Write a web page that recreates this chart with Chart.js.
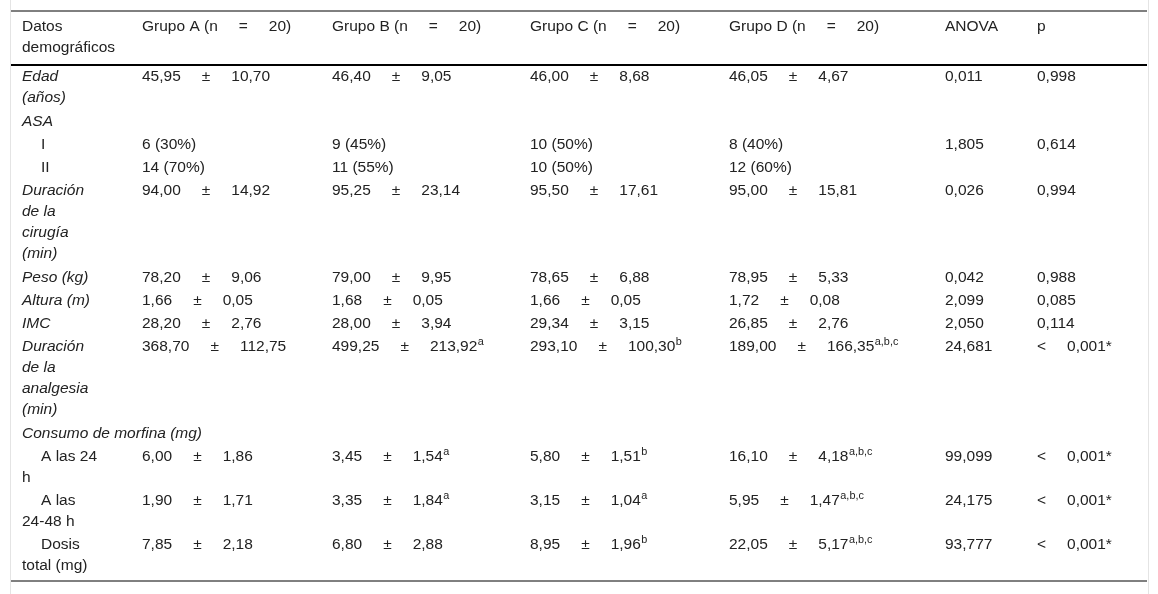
<!DOCTYPE html>
<html lang="es">
<head>
<meta charset="utf-8">
<title>Datos demográficos</title>
<script src="https://cdn.jsdelivr.net/npm/chart.js@4"></script>
<style>
  html, body { margin: 0; padding: 0; background: #fff; }
  #wrap { width: 1158px; height: 594px; }
</style>
</head>
<body>
<div id="wrap"><canvas id="tabla"></canvas></div>
<script>
// contenido de la tabla
const encabezados = [
  ["Datos", "demográficos"],
  ["Grupo A (n = 20)"],
  ["Grupo B (n = 20)"],
  ["Grupo C (n = 20)"],
  ["Grupo D (n = 20)"],
  ["ANOVA"],
  ["p"]
];

const filas = [
  ["Edad", "(años)"],
  ["ASA"],
  ["I"],
  ["II"],
  ["Duración", "de la", "cirugía", "(min)"],
  ["Peso (kg)"],
  ["Altura (m)"],
  ["IMC"],
  ["Duración", "de la", "analgesia", "(min)"],
  ["Consumo de morfina (mg)"],
  ["A las 24", "h"],
  ["A las", "24-48 h"],
  ["Dosis", "total (mg)"]
];
const filaCursiva = [true, true, false, false, true, true, true, true, true, true, false, false, false];
const filaSangria = [false, false, true, true, false, false, false, false, false, false, true, true, true];

const grupoA = ["45,95 ± 10,70", "", "6 (30%)", "14 (70%)", "94,00 ± 14,92", "78,20 ± 9,06", "1,66 ± 0,05",
  "28,20 ± 2,76", "368,70 ± 112,75", "", "6,00 ± 1,86", "1,90 ± 1,71", "7,85 ± 2,18"];
const grupoB = ["46,40 ± 9,05", "", "9 (45%)", "11 (55%)", "95,25 ± 23,14", "79,00 ± 9,95", "1,68 ± 0,05",
  "28,00 ± 3,94", "499,25 ± 213,92^a", "", "3,45 ± 1,54^a", "3,35 ± 1,84^a", "6,80 ± 2,88"];
const grupoC = ["46,00 ± 8,68", "", "10 (50%)", "10 (50%)", "95,50 ± 17,61", "78,65 ± 6,88", "1,66 ± 0,05",
  "29,34 ± 3,15", "293,10 ± 100,30^b", "", "5,80 ± 1,51^b", "3,15 ± 1,04^a", "8,95 ± 1,96^b"];
const grupoD = ["46,05 ± 4,67", "", "8 (40%)", "12 (60%)", "95,00 ± 15,81", "78,95 ± 5,33", "1,72 ± 0,08",
  "26,85 ± 2,76", "189,00 ± 166,35^a,b,c", "", "16,10 ± 4,18^a,b,c", "5,95 ± 1,47^a,b,c", "22,05 ± 5,17^a,b,c"];
const anova = ["0,011", "", "1,805", "", "0,026", "0,042", "2,099", "2,050", "24,681", "", "99,099", "24,175", "93,777"];
const pValor = ["0,998", "", "0,614", "", "0,994", "0,988", "0,085", "0,114", "< 0,001*", "", "< 0,001*", "< 0,001*", "< 0,001*"];

const columnas = [null, grupoA, grupoB, grupoC, grupoD, anova, pValor];

// maquetación (en unidades de las escalas)
const colX = [22, 142, 332, 530, 729, 945, 1037];
const lineaAlto = 21;
const separacion = 2.25;
const yCabecera = 27;
const yCuerpo = 77;
const reglaArriba = 11, reglaCabecera = 65, reglaAbajo = 581;
const bordeIzq = 11, bordeDer = 1147;
const hueco = 21;
const sangria = 19;

const FUENTE = "'Liberation Sans', Arial, sans-serif";
const TAM = 15.5;
const COLOR = "#222";

// dibuja una celda: los signos ±, =, < llevan huecos anchos; superíndice tras "^"
function dibujaCelda(ctx, texto, x, y, cursiva) {
  const estilo = (cursiva ? "italic " : "") + TAM + "px " + FUENTE;
  let base = texto, sup = "";
  if (texto.indexOf("^") >= 0) {
    base = texto.split("^")[0];
    sup = texto.split("^")[1];
  }
  ctx.font = estilo;
  const signos = ["±", "=", "<"];
  const partes = base.split(" ");
  let cx = x;
  partes.forEach((p, i) => {
    ctx.fillText(p, cx, y);
    cx += ctx.measureText(p).width;
    if (i < partes.length - 1) {
      const ancho = signos.includes(p) || signos.includes(partes[i + 1]);
      cx += ancho ? hueco : ctx.measureText(" ").width;
    }
  });
  if (sup) {
    ctx.font = (TAM * 0.7) + "px " + FUENTE;
    ctx.fillText(sup, cx + 0.5, y - 5);
  }
}

const tablaPlugin = {
  id: "tabla",
  afterDraw(chart) {
    const ctx = chart.ctx;
    const sx = chart.scales.x, sy = chart.scales.y;
    ctx.save();

    // bordes laterales tenues
    ctx.strokeStyle = "#e4e4e4";
    ctx.lineWidth = 1;
    [bordeIzq - 0.5, bordeDer + 1.5].forEach(v => {
      ctx.beginPath();
      ctx.moveTo(sx.getPixelForValue(v), sy.getPixelForValue(0));
      ctx.lineTo(sx.getPixelForValue(v), sy.getPixelForValue(594));
      ctx.stroke();
    });

    // reglas horizontales
    ctx.strokeStyle = "#000";
    [[reglaArriba, 1], [reglaCabecera, 2], [reglaAbajo, 1]].forEach(([v, w]) => {
      ctx.lineWidth = w;
      ctx.beginPath();
      ctx.moveTo(sx.getPixelForValue(bordeIzq), sy.getPixelForValue(v));
      ctx.lineTo(sx.getPixelForValue(bordeDer), sy.getPixelForValue(v));
      ctx.stroke();
    });

    ctx.fillStyle = COLOR;
    ctx.textBaseline = "middle";
    ctx.textAlign = "left";

    // cabecera
    encabezados.forEach((lineas, c) => {
      lineas.forEach((t, k) => {
        dibujaCelda(ctx, t, sx.getPixelForValue(colX[c]), sy.getPixelForValue(yCabecera + k * lineaAlto), false);
      });
    });

    // cuerpo
    let yFila = yCuerpo;
    filas.forEach((lineas, r) => {
      lineas.forEach((t, k) => {
        const x0 = colX[0] + (filaSangria[r] && k === 0 ? sangria : 0);
        dibujaCelda(ctx, t, sx.getPixelForValue(x0), sy.getPixelForValue(yFila + k * lineaAlto), filaCursiva[r]);
      });
      for (let c = 1; c < columnas.length; c++) {
        const v = columnas[c][r];
        if (v) dibujaCelda(ctx, v, sx.getPixelForValue(colX[c]), sy.getPixelForValue(yFila), false);
      }
      yFila += lineas.length * lineaAlto + separacion;
    });

    ctx.restore();
  }
};

new Chart(document.getElementById("tabla").getContext("2d"), {
  type: "scatter",
  data: { datasets: [] },
  options: {
    responsive: true,
    maintainAspectRatio: false,
    animation: false,
    layout: { padding: 0 },
    plugins: { legend: { display: false }, tooltip: { enabled: false } },
    scales: {
      x: { type: "linear", min: 0, max: 1158, display: false },
      y: { type: "linear", min: 0, max: 594, reverse: true, display: false }
    }
  },
  plugins: [tablaPlugin]
});
</script>
</body>
</html>
